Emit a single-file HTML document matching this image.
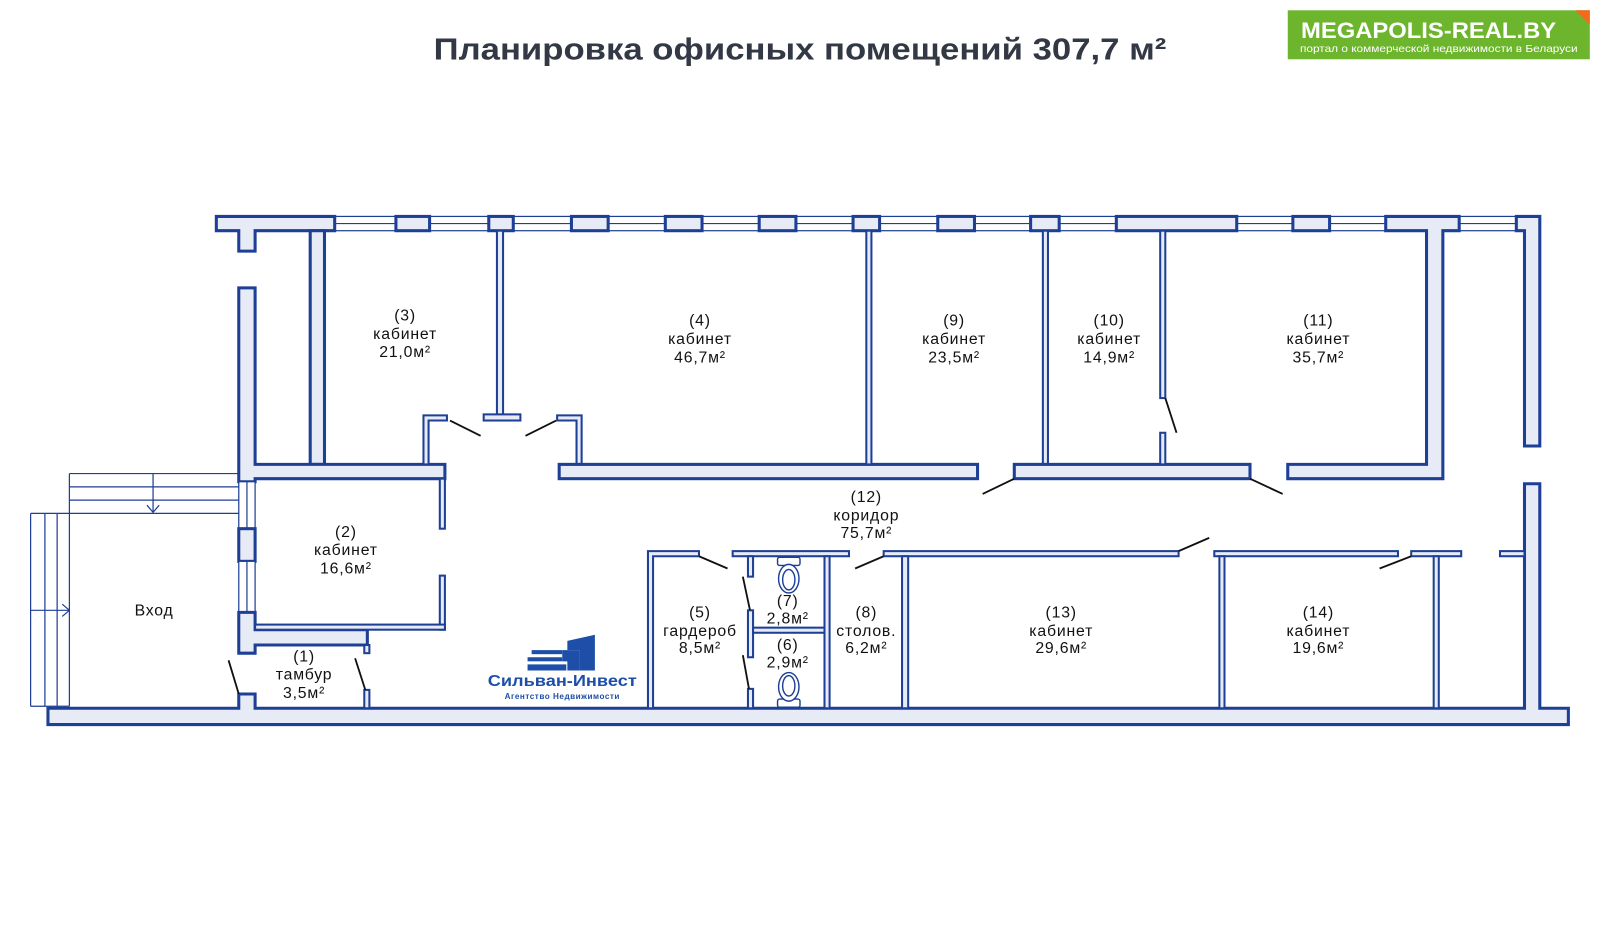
<!DOCTYPE html>
<html><head><meta charset="utf-8"><style>
html,body{margin:0;padding:0;background:#fff;width:1600px;height:940px;overflow:hidden}
svg{display:block}
.w{fill:#e7ebf6;stroke:#1e3f96;stroke-width:3}
.p{fill:#e7ebf6;stroke:#1e3f96;stroke-width:2}
.win{fill:#fff;stroke:#1e3f96;stroke-width:1.2}
.d{stroke:#111;stroke-width:1.8}
.s{stroke:#1e3f96;stroke-width:1.2;fill:none}
text{font-family:"Liberation Sans","DejaVu Sans",sans-serif;font-size:15.5px;fill:#111;text-anchor:middle;letter-spacing:0.8px}
</style></head><body>
<svg width="1600" height="940" viewBox="0 0 1568 921" xmlns="http://www.w3.org/2000/svg">
<!-- title -->
<text x="784" y="58" style="font-size:30px;font-weight:bold;fill:#333845;letter-spacing:0" textLength="718" lengthAdjust="spacingAndGlyphs">Планировка офисных помещений 307,7 м²</text>
<!-- logo -->
<rect x="1262" y="10" width="296" height="48" fill="#6cb52c"/>
<polygon points="1544,10 1558,10 1558,24" fill="#f26a1b"/>
<text x="1400" y="37" style="font-size:22px;font-weight:bold;fill:#fff;letter-spacing:0" textLength="250" lengthAdjust="spacingAndGlyphs">MEGAPOLIS-REAL.BY</text>
<text x="1410" y="51" style="font-size:10px;fill:#fff;letter-spacing:0" textLength="272" lengthAdjust="spacingAndGlyphs">портал о коммерческой недвижимости в Беларуси</text>

<!-- top window band -->
<rect class="win" x="212" y="212" width="1296" height="14"/>
<line class="s" x1="212" y1="219" x2="1508" y2="219"/>
<!-- top wall pieces -->
<path class="w" d="M212,212 H328 V226 H250 V246 H234 V226 H212 Z"/>
<rect class="w" x="388" y="212" width="33" height="14"/>
<rect class="w" x="479" y="212" width="24" height="14"/>
<rect class="w" x="560" y="212" width="36" height="14"/>
<rect class="w" x="652" y="212" width="36" height="14"/>
<rect class="w" x="744" y="212" width="36" height="14"/>
<rect class="w" x="836" y="212" width="26" height="14"/>
<rect class="w" x="919" y="212" width="36" height="14"/>
<rect class="w" x="1010" y="212" width="28" height="14"/>
<rect class="w" x="1094" y="212" width="118" height="14"/>
<rect class="w" x="1267" y="212" width="36" height="14"/>
<path class="w" d="M1358,212 H1430 V226 H1414 V469 H1262 V455 H1398 V226 H1358 Z"/>
<path class="w" d="M1486,212 H1509 V437 H1494 V226 H1486 Z"/>
<!-- right lower wall + bottom -->
<path class="w" d="M1494,474 H1509 V694 H1537 V710 H47 V694 H234 V680 H250 V694 H1494 Z"/>
<!-- left wall -->
<rect class="w" x="304" y="226" width="14" height="229"/>
<path class="w" d="M234,282 H250 V455 H436 V469 H250 V472 H234 Z"/>
<rect class="win" x="234" y="472" width="16" height="46"/>
<line class="s" x1="242" y1="472" x2="242" y2="518"/>
<rect class="w" x="234" y="518" width="16" height="32"/>
<rect class="win" x="234" y="550" width="16" height="50"/>
<line class="s" x1="242" y1="550" x2="242" y2="600"/>
<path class="w" d="M234,600 H250 V617 H360 V632 H250 V640 H234 Z"/>
<!-- room 2 thin walls -->
<rect class="p" x="431" y="469" width="5" height="49"/>
<rect class="p" x="431" y="564" width="5" height="53"/>
<rect class="p" x="250" y="612" width="186" height="5"/>
<rect class="p" x="357" y="632" width="5" height="8"/>
<rect class="p" x="357" y="676" width="5" height="18"/>
<!-- 3/4 partition and door frames -->
<rect class="p" x="487" y="226" width="6" height="181"/>
<rect class="p" x="474" y="406" width="36" height="6"/>
<path class="p" d="M415,407 H438 V412 H420 V455 H415 Z"/>
<path class="p" d="M546,407 H570 V455 H565 V412 H546 Z"/>
<rect class="w" x="548" y="455" width="410" height="14"/>
<rect class="p" x="849" y="226" width="5" height="229"/>
<rect class="p" x="1022" y="226" width="5" height="229"/>
<rect class="w" x="994" y="455" width="231" height="14"/>
<rect class="p" x="1137" y="226" width="5" height="164"/>
<rect class="p" x="1137" y="424" width="5" height="31"/>
<!-- lower rooms -->
<path class="p" d="M635,540 H685 V545 H640 V694 H635 Z"/>
<rect class="p" x="718" y="540" width="114" height="5"/>
<rect class="p" x="733" y="545" width="5" height="20"/>
<rect class="p" x="733" y="598" width="5" height="46"/>
<rect class="p" x="733" y="675" width="5" height="19"/>
<rect class="p" x="738" y="615" width="72" height="5"/>
<rect class="p" x="808" y="545" width="5" height="149"/>
<rect class="p" x="866" y="540" width="289" height="5"/>
<rect class="p" x="884" y="545" width="6" height="149"/>
<rect class="p" x="1190" y="540" width="180" height="5"/>
<rect class="p" x="1195" y="545" width="5" height="149"/>
<rect class="p" x="1383" y="540" width="49" height="5"/>
<rect class="p" x="1405" y="545" width="5" height="149"/>
<rect class="p" x="1470" y="540" width="24" height="5"/>
<!-- doors -->
<line class="d" x1="441" y1="412" x2="471" y2="427"/>
<line class="d" x1="515" y1="427" x2="545" y2="412"/>
<line class="d" x1="1142" y1="390" x2="1153" y2="424"/>
<line class="d" x1="963" y1="484" x2="994" y2="469"/>
<line class="d" x1="1225" y1="469" x2="1257" y2="484"/>
<line class="d" x1="685" y1="545" x2="713" y2="557"/>
<line class="d" x1="728" y1="565" x2="735" y2="598"/>
<line class="d" x1="728" y1="642" x2="734" y2="675"/>
<line class="d" x1="838" y1="557" x2="866" y2="545"/>
<line class="d" x1="1155" y1="540" x2="1185" y2="527"/>
<line class="d" x1="1352" y1="557" x2="1383" y2="545"/>
<line class="d" x1="224" y1="647" x2="234" y2="680"/>
<line class="d" x1="348" y1="645" x2="358" y2="676"/>
<!-- toilets -->
<g fill="#fff" stroke="#1e3f96" stroke-width="1.4">
<rect x="762" y="546" width="22" height="8" rx="2"/>
<ellipse cx="773" cy="567" rx="10" ry="14"/><ellipse cx="773" cy="568" rx="6" ry="10"/>
<rect x="762" y="685" width="22" height="8" rx="2"/>
<ellipse cx="773" cy="673" rx="10" ry="14"/><ellipse cx="773" cy="672" rx="6" ry="10"/>
</g>
<!-- entrance stairs -->
<g class="s">
<line x1="68" y1="464" x2="234" y2="464"/>
<line x1="68" y1="477" x2="234" y2="477"/>
<line x1="68" y1="490" x2="234" y2="490"/>
<line x1="30" y1="503" x2="234" y2="503"/>
<line x1="68" y1="464" x2="68" y2="692"/>
<line x1="30" y1="503" x2="30" y2="692"/>
<line x1="44" y1="503" x2="44" y2="692"/>
<line x1="56" y1="503" x2="56" y2="692"/>
<line x1="30" y1="692" x2="68" y2="692"/>
<line x1="150" y1="464" x2="150" y2="502"/>
<polyline points="144,495 150,502 156,495"/>
<line x1="30" y1="598" x2="68" y2="598"/>
<polyline points="61,592 68,598 61,604"/>
</g>
<!-- labels -->
<text x="397" y="314">(3)</text><text x="397" y="332">кабинет</text><text x="397" y="350">21,0м²</text>
<text x="686" y="319">(4)</text><text x="686" y="337">кабинет</text><text x="686" y="355">46,7м²</text>
<text x="935" y="319">(9)</text><text x="935" y="337">кабинет</text><text x="935" y="355">23,5м²</text>
<text x="1087" y="319">(10)</text><text x="1087" y="337">кабинет</text><text x="1087" y="355">14,9м²</text>
<text x="1292" y="319">(11)</text><text x="1292" y="337">кабинет</text><text x="1292" y="355">35,7м²</text>
<text x="339" y="526">(2)</text><text x="339" y="544">кабинет</text><text x="339" y="562">16,6м²</text>
<text x="849" y="492">(12)</text><text x="849" y="510">коридор</text><text x="849" y="527">75,7м²</text>
<text x="151" y="603">Вход</text>
<text x="298" y="648">(1)</text><text x="298" y="666">тамбур</text><text x="298" y="684">3,5м²</text>
<text x="686" y="605">(5)</text><text x="686" y="623">гардероб</text><text x="686" y="640">8,5м²</text>
<text x="772" y="594">(7)</text><text x="772" y="611">2,8м²</text>
<text x="772" y="637">(6)</text><text x="772" y="654">2,9м²</text>
<text x="849" y="605">(8)</text><text x="849" y="623">столов.</text><text x="849" y="640">6,2м²</text>
<text x="1040" y="605">(13)</text><text x="1040" y="623">кабинет</text><text x="1040" y="640">29,6м²</text>
<text x="1292" y="605">(14)</text><text x="1292" y="623">кабинет</text><text x="1292" y="640">19,6м²</text>
<!-- Sylvan logo -->
<g fill="#1d4fa8">
<rect x="517" y="651" width="38" height="6"/>
<rect x="517" y="644" width="34" height="4"/>
<rect x="521" y="637" width="30" height="4"/>
<polygon points="551,637 568,637 568,657 556,657 556,648 551,648"/>
<polygon points="556,628 583,622 583,657 568,657 568,637 556,637"/>
</g>
<text x="551" y="672" style="font-size:15px;font-weight:bold;fill:#1d4fa8;letter-spacing:0" textLength="146" lengthAdjust="spacingAndGlyphs">Сильван-Инвест</text>
<text x="551" y="685" style="font-size:8px;font-weight:bold;fill:#1d4fa8;letter-spacing:0.5px">Агентство Недвижимости</text>
</svg>
</body></html>
